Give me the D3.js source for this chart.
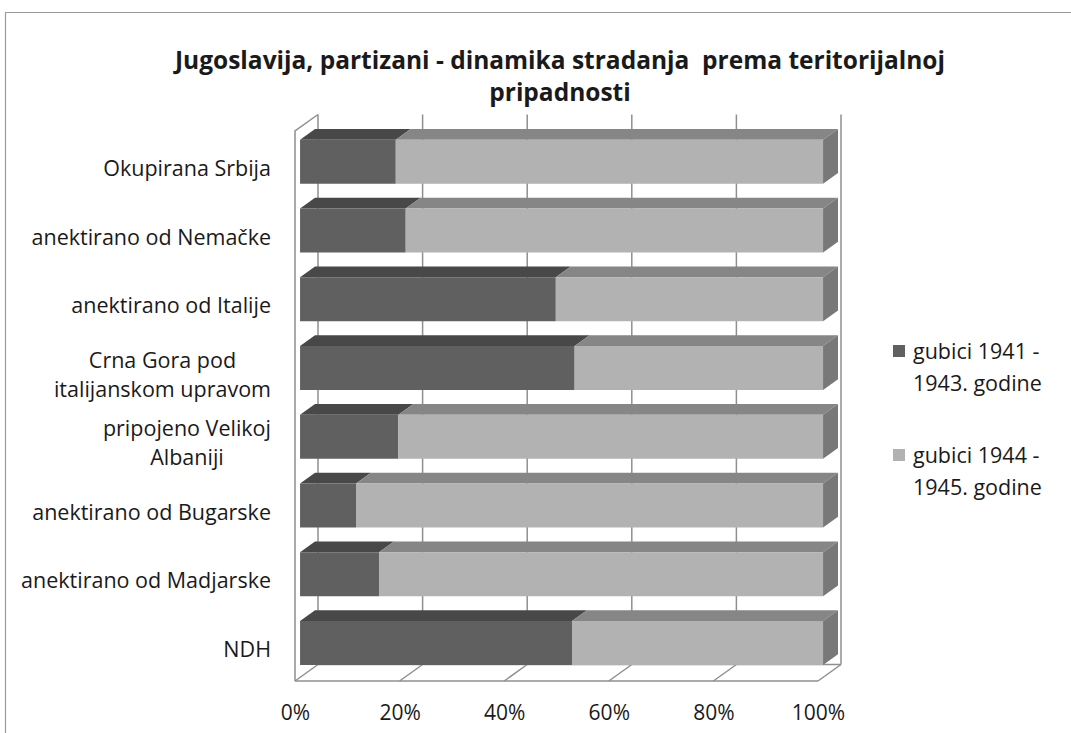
<!DOCTYPE html>
<html>
<head>
<meta charset="utf-8">
<script src="https://cdn.jsdelivr.net/npm/d3@7"></script>
<style>
  html, body { margin: 0; padding: 0; background: #fff; }
  svg { display: block; }
  text { font-family: "Open Sans", "Noto Sans", sans-serif; fill: #1a1a1a; }
</style>
</head>
<body>
<svg id="chart" width="1071" height="733"></svg>
<script>
// ---- data ----
const titleLines = ["Jugoslavija, partizani - dinamika stradanja  prema teritorijalnoj", "pripadnosti"];
const categories = [
  "Okupirana Srbija",
  "anektirano od Nemačke",
  "anektirano od Italije",
  "Crna Gora pod\nitalijanskom upravom",
  "pripojeno Velikoj\nAlbaniji",
  "anektirano od Bugarske",
  "anektirano od Madjarske",
  "NDH"
];
const seriesNames = ["gubici 1941 -\n1943. godine", "gubici 1944 -\n1945. godine"];
const losses1941_43 = [18.3, 20.2, 48.9, 52.5, 18.8, 10.7, 15.1, 52.0];
const losses1944_45 = [81.7, 79.8, 51.1, 47.5, 81.2, 89.3, 84.9, 48.0];
const tickValues = [0, 20, 40, 60, 80, 100];

// ---- layout ----
const W = 1071, H = 733;
const svg = d3.select("#chart");
const DX = 23, DY = 16.5;            // wall depth projection
const barFront = 0.22, barBack = 0.87; // bar depth fractions
const colors = {
  front: ["#606060", "#b2b2b2"],
  top: ["#484848", "#868686"],
  side: "#787878"
};
const gridColor = "#8f8f8f";

const x = d3.scaleLinear().domain([0, 100]).range([295, 818]);
const y = d3.scaleBand().domain(categories).range([131, 681]);
const barH = 44;

// outer chart border
svg.append("path")
  .attr("d", `M5.5,${H} L5.5,12.5 L${W},12.5`)
  .attr("fill", "none").attr("stroke", "#9a9a9a").attr("stroke-width", 1.2);

// title
const title = svg.append("text")
  .attr("text-anchor", "middle")
  .style("font-weight", "bold").style("font-size", "24.5px").style("white-space", "pre");
titleLines.forEach((t, i) => {
  title.append("tspan").attr("x", 560).attr("y", 69 + i * 32).text(t);
});

// walls & gridlines
const walls = svg.append("g").attr("fill", "none").attr("stroke", gridColor).attr("stroke-width", 1.5);
const yTop = y.range()[0], yBot = y.range()[1];
tickValues.forEach(v => {
  walls.append("line")
    .attr("x1", x(v) + DX).attr("x2", x(v) + DX)
    .attr("y1", yTop - DY).attr("y2", yBot - DY);
  walls.append("line")
    .attr("x1", x(v)).attr("y1", yBot)
    .attr("x2", x(v) + DX).attr("y2", yBot - DY);
});
walls.append("line").attr("x1", x(0) + DX).attr("x2", x(100) + DX).attr("y1", yBot - DY).attr("y2", yBot - DY);
walls.append("line").attr("x1", x(0)).attr("x2", x(100)).attr("y1", yBot).attr("y2", yBot);
walls.append("path")
  .attr("d", `M${x(0) + DX},${yTop - DY} L${x(0)},${yTop} L${x(0)},${yBot}`);

// bars
const fx = barFront * DX, fy = barFront * DY;
const bdx = (barBack - barFront) * DX, bdy = (barBack - barFront) * DY;
const bars = svg.append("g");
categories.forEach((c, i) => {
  const vals = [losses1941_43[i], losses1944_45[i]];
  const total = vals[0] + vals[1];
  const yc = y(c) + y.bandwidth() / 2 - fy;
  const y0 = yc - barH / 2;
  let acc = 0;
  vals.forEach((v, s) => {
    const a = x(acc / total * 100) + fx;
    const b = x((acc + v) / total * 100) + fx;
    acc += v;
    bars.append("path")
      .attr("d", `M${a},${y0} L${b},${y0} L${b + bdx},${y0 - bdy} L${a + bdx},${y0 - bdy} Z`)
      .attr("fill", colors.top[s]);
    bars.append("rect")
      .attr("x", a).attr("y", y0).attr("width", b - a).attr("height", barH)
      .attr("fill", colors.front[s]);
    if (s === 1) {
      bars.append("path")
        .attr("d", `M${b},${y0} L${b + bdx},${y0 - bdy} L${b + bdx},${y0 - bdy + barH} L${b},${y0 + barH} Z`)
        .attr("fill", colors.side);
    }
  });
});

// category labels
const labelRight = 271;
const catG = svg.append("g").style("font-size", "21.5px");
categories.forEach((c, i) => {
  const lines = c.split("\n");
  const yc = y(c) + y.bandwidth() / 2 + 3;
  const lh = 29;
  const t = catG.append("text").attr("text-anchor", "middle");
  const spans = lines.map((ln, k) => t.append("tspan")
    .attr("y", yc + (k - (lines.length - 1) / 2) * lh)
    .attr("dy", "0.35em").text(ln));
  const maxW = d3.max(spans, s => s.node().getComputedTextLength());
  spans.forEach(s => s.attr("x", labelRight - maxW / 2));
});

// value axis labels
const axis = svg.append("g").attr("transform", `translate(0,${yBot})`)
  .call(d3.axisBottom(x).tickValues(tickValues).tickFormat(d => d + "%").tickSize(0).tickPadding(0));
axis.select(".domain").remove();
axis.selectAll("text")
  .attr("y", 32).attr("dy", "0.35em")
  .style("font-size", "21px").style("font-family", "'Open Sans', sans-serif").attr("fill", "#1a1a1a");

// legend
const legend = svg.append("g").style("font-size", "21.5px");
seriesNames.forEach((name, s) => {
  const top = 345 + s * 104;
  legend.append("rect").attr("x", 893).attr("y", top).attr("width", 12).attr("height", 12)
    .attr("fill", colors.front[s]);
  const t = legend.append("text");
  name.split("\n").forEach((ln, k) => {
    t.append("tspan").attr("x", 913).attr("y", top + 6 + k * 32).attr("dy", "0.35em").text(ln);
  });
});
</script>
</body>
</html>
